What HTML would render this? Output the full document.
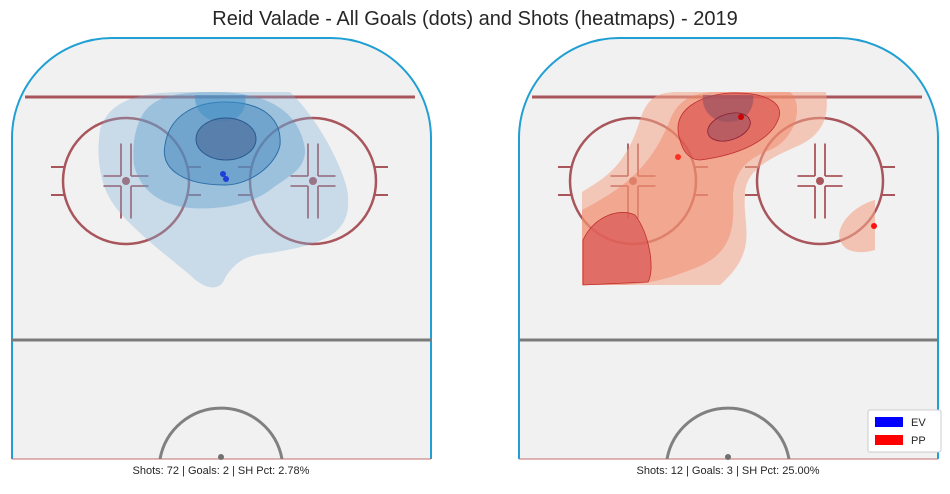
<!DOCTYPE html>
<html><head><meta charset="utf-8"><style>
body{margin:0;background:#fff;width:950px;height:489px;overflow:hidden;font-family:"Liberation Sans",sans-serif}
</style></head><body>
<svg id="c" width="950" height="489" viewBox="0 0 950 489" xmlns="http://www.w3.org/2000/svg">
<text x="475" y="25" text-anchor="middle" font-size="20" fill="#262626" font-family="Liberation Sans, sans-serif">Reid Valade - All Goals (dots) and Shots (heatmaps) - 2019</text>
<defs>
<clipPath id="rk1"><path d="M12 459 V138 A100 100 0 0 1 112 38 H331 A100 100 0 0 1 431 138 V459 Z"/></clipPath>
<clipPath id="rk2"><path d="M519 459 V138 A100 100 0 0 1 619 38 H838 A100 100 0 0 1 938 138 V459 Z"/></clipPath>
</defs>
<g id="rinks"></g>
<g id="heat1" clip-path="url(#rk1)">
<path d="M100 130 C110 95 150 92 190 92 L290 92 C320 120 350 180 348 200 C350 235 320 245 270 253 C245 255 235 262 225 278 C220 292 205 290 190 275 C160 250 120 220 108 195 C98 175 97 150 100 130Z" fill="#7fb0d8" fill-opacity="0.35"/>
<path d="M140 120 C150 95 180 92 215 92 C265 92 300 110 305 150 C305 170 290 175 270 190 C250 205 220 210 190 208 C160 205 140 190 134 165 C132 145 135 130 140 120Z" fill="#5a9ccc" fill-opacity="0.4"/>
<path d="M165 145 C170 112 200 102 225 102 C262 102 282 118 280 145 C276 165 250 185 225 185 C185 185 160 170 165 145Z" fill="#3f82bb" fill-opacity="0.45" stroke="#2e6fa8" stroke-width="1"/>
<path d="M195 95 L245 95 C248 110 238 122 222 122 C205 122 194 110 195 95Z" fill="#3d90c8" fill-opacity="0.5"/>
<ellipse cx="226" cy="139" rx="30" ry="21" fill="#50709f" fill-opacity="0.7" stroke="#2a5a90" stroke-width="1"/>
</g>
<g id="heat2" clip-path="url(#rk2)">
<path d="M582 192 C600 180 625 170 640 120 C648 95 660 92 680 92 L826 92 C830 120 820 135 800 145 C770 158 745 170 745 195 C742 225 760 250 720 285 L582 285Z" fill="#f4a488" fill-opacity="0.55"/>
<path d="M582 210 C620 190 650 170 670 120 C680 95 700 92 720 92 L790 92 C805 105 795 140 770 150 C748 158 735 170 733 195 C734 225 735 255 690 270 C660 282 640 285 615 285 L582 285Z" fill="#f08060" fill-opacity="0.45"/>
<path d="M680 140 C670 110 700 95 730 93 C770 92 785 105 778 120 C770 140 740 155 700 160 C690 160 683 152 680 140Z" fill="#d84848" fill-opacity="0.6" stroke="#c03030" stroke-width="0.8"/>
<path d="M583 240 C595 215 620 208 635 215 C650 235 655 270 648 282 L583 285Z" fill="#d85050" fill-opacity="0.65" stroke="#c03030" stroke-width="0.8"/>
<path d="M703 95 L753 95 C755 110 745 122 728 122 C712 122 701 110 703 95Z" fill="#905060" fill-opacity="0.6"/>
<ellipse cx="729" cy="127" rx="22" ry="13" transform="rotate(-18 729 127)" fill="#985060" fill-opacity="0.55" stroke="#8a2030" stroke-width="0.8"/>
<path d="M875 200 C855 205 835 225 840 240 C845 255 865 253 875 250Z" fill="#f4a488" fill-opacity="0.6"/>
</g>
<g id="dots"></g>
<text x="221" y="474" text-anchor="middle" font-size="11" fill="#262626">Shots: 72 | Goals: 2 | SH Pct: 2.78%</text>
<text x="728" y="474" text-anchor="middle" font-size="11" fill="#262626">Shots: 12 | Goals: 3 | SH Pct: 25.00%</text>
<g>
<rect x="868" y="410" width="73" height="42" fill="#fff" stroke="#ccc" rx="2"/>
<rect x="875" y="417" width="28" height="10" fill="#0000ff"/>
<text x="911" y="426" font-size="11" fill="#262626">EV</text>
<rect x="875" y="435" width="28" height="10" fill="#ff0000"/>
<text x="911" y="444" font-size="11" fill="#262626">PP</text>
</g>
</svg>
<script>
// Goals in rink-local units (x: 0..419 across rink, y: 0..421 from top of rink)
const evGoalX = [211, 214];
const evGoalY = [136, 141];
const ppGoalX = [222, 159, 355];
const ppGoalY = [79, 119, 188];
const ppGoalColor = ['#cc0000', '#ff3020', '#ff1010'];
const rinkOffsets = [12, 519];
const NS = 'http://www.w3.org/2000/svg';
function sx(v, r){ return rinkOffsets[r] + v; }
function sy(v){ return 38 + v; }
function el(tag, attrs, parent){ const e=document.createElementNS(NS,tag); for(const k in attrs) e.setAttribute(k, attrs[k]); parent.appendChild(e); return e; }
const rinks = document.getElementById('rinks');
rinkOffsets.forEach((o, i) => {
  const g = el('g', {}, rinks);
  
  
  el('path', {d:`M${o} 459 V138 A100 100 0 0 1 ${o+100} 38 H${o+319} A100 100 0 0 1 ${o+419} 138 V459`, fill:'#f1f1f1', stroke:'#1f9fd4', 'stroke-width':2}, g);
  el('line', {x1:o+13, y1:97, x2:o+403, y2:97, stroke:'#a8565c', 'stroke-width':3}, g);
  el('line', {x1:o, y1:340, x2:o+419, y2:340, stroke:'#7a7a7a', 'stroke-width':3}, g);
  el('line', {x1:o, y1:459, x2:o+419, y2:459, stroke:'#c07070', 'stroke-width':1}, g);
  el('path', {d:`M${o+148} 459 A62 62 0 0 1 ${o+270} 459`, fill:'none', stroke:'#808080', 'stroke-width':3}, g);
  el('circle', {cx:o+209, cy:457, r:3, fill:'#707070'}, g);
  [114, 301].forEach(cx => {
    const X = o + cx, Y = 181;
    el('circle', {cx:X, cy:Y, r:63, fill:'none', stroke:'#a8565c', 'stroke-width':2.5}, g);
    el('circle', {cx:X, cy:Y, r:4, fill:'#a8565c'}, g);
    [[-75,-62],[62,75]].forEach(([a,b]) => { [-14,14].forEach(dy => el('line',{x1:X+a,y1:Y+dy,x2:X+b,y2:Y+dy,stroke:'#a8565c','stroke-width':2},g)); });
    const s = '#a8565c';
    [[-5,-5],[5,-5],[-5,5],[5,5]].forEach(([dx,dy]) => {
      el('line',{x1:X+dx,y1:Y+dy,x2:X+dx,y2:Y+dy*7.5,stroke:s,'stroke-width':1.8},g);
      el('line',{x1:X+dx,y1:Y+dy,x2:X+dx*4.5,y2:Y+dy,stroke:s,'stroke-width':1.8},g);
    });
  });
});
const dots = document.getElementById('dots');
evGoalX.forEach((x, i) => {
  const c = el('circle', {cx:sx(x,0), cy:sy(evGoalY[i]), r:3, fill:'#1f3fd8'}, dots);
  
  
});
ppGoalX.forEach((x, i) => {
  const c = el('circle', {cx:sx(x,1), cy:sy(ppGoalY[i]), r:3, fill:ppGoalColor[i]}, dots);
  
  
});
</script>
</body></html>
